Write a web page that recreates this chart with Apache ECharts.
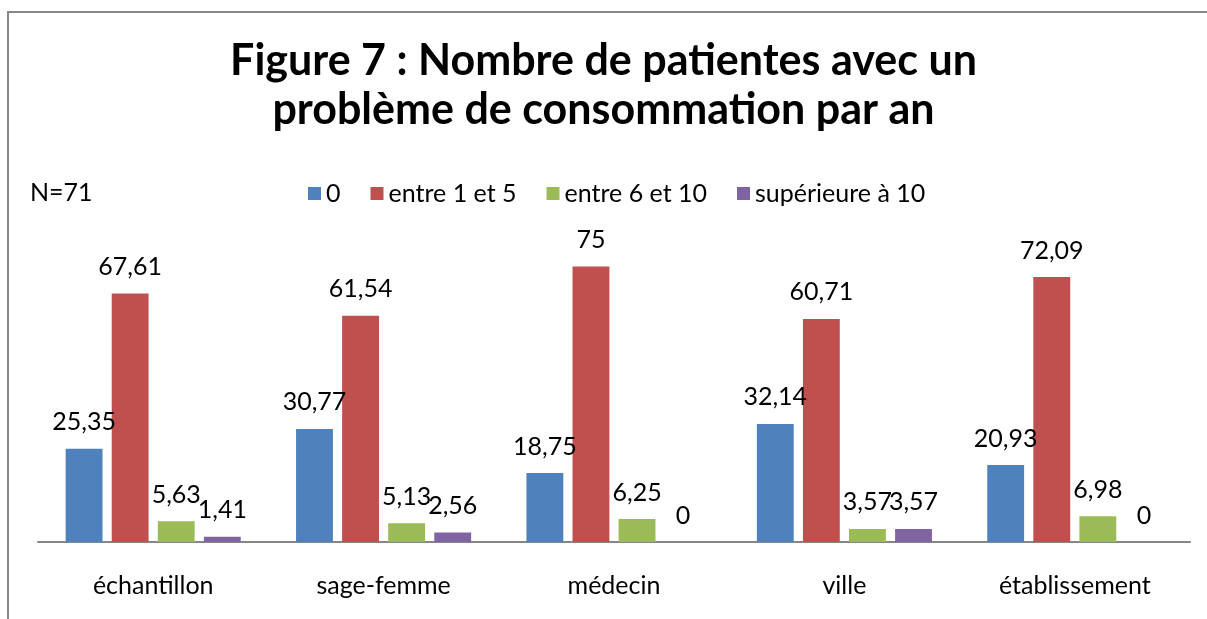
<!DOCTYPE html>
<html>
<head>
<meta charset="utf-8">
<script src="https://cdn.jsdelivr.net/npm/echarts@6/dist/echarts.min.js"></script>
<style>
html, body { margin: 0; padding: 0; background: #fff; }
#main { width: 1207px; height: 619px; }
</style>
</head>
<body>
<div id="main"></div>
<script>
var categories = ['échantillon', 'sage-femme', 'médecin', 'ville', 'établissement'];
var seriesNames = ['0', 'entre 1 et 5', 'entre 6 et 10', 'supérieure à 10'];
var zero = [25.35, 30.77, 18.75, 32.14, 20.93];
var entre1et5 = [67.61, 61.54, 75, 60.71, 72.09];
var entre6et10 = [5.63, 5.13, 6.25, 3.57, 6.98];
var sup10 = [1.41, 2.56, 0, 3.57, 0];
var colors = ['#4F81BD', '#C0504D', '#9BBB59', '#8064A2'];

var font = 'Lato, "Open Sans", sans-serif';
var myChart = echarts.init(document.getElementById('main'));

function makeSeries(name, data, color) {
    return {
        name: name,
        type: 'bar',
        data: data,
        barGap: '25%',
        barCategoryGap: '24%',
        itemStyle: { color: color },
        label: {
            show: true,
            position: 'top',
            distance: 14,
            color: '#000',
            fontFamily: font,
            fontSize: 25,
            formatter: function (p) { return String(p.value).replace('.', ','); }
        }
    };
}

myChart.setOption({
    animation: false,
    title: {
        text: 'Figure 7 : Nombre de patientes avec un\nproblème de consommation par an',
        left: 'center',
        top: 32,
        textStyle: {
            fontFamily: font,
            fontWeight: 'bold',
            fontSize: 43,
            lineHeight: 49,
            color: '#000'
        }
    },
    legend: {
        data: seriesNames,
        left: 303,
        top: 176,
        itemWidth: 13,
        itemHeight: 13,
        itemGap: 30,
        icon: 'rect',
        textStyle: { fontFamily: font, fontSize: 25, color: '#000' }
    },
    graphic: [
        {
            type: 'rect',
            shape: { x: 8, y: 12, width: 1220, height: 640 },
            style: { fill: null, stroke: '#878787', lineWidth: 2 },
            silent: true
        },
        {
            type: 'text',
            left: 30,
            top: 180,
            style: { text: 'N=71', font: '25px ' + font, fill: '#000' }
        }
    ],
    grid: { left: 38, right: 17, top: 248, bottom: 77 },
    xAxis: {
        type: 'category',
        data: categories,
        axisLine: { lineStyle: { color: '#868686', width: 2 } },
        axisTick: { show: false },
        axisLabel: { color: '#000', fontFamily: font, fontSize: 25, margin: 31 }
    },
    yAxis: {
        type: 'value',
        min: 0,
        max: 80,
        show: false,
        splitLine: { show: false }
    },
    series: [
        makeSeries(seriesNames[0], zero, colors[0]),
        makeSeries(seriesNames[1], entre1et5, colors[1]),
        makeSeries(seriesNames[2], entre6et10, colors[2]),
        makeSeries(seriesNames[3], sup10, colors[3])
    ]
});
</script>
</body>
</html>
